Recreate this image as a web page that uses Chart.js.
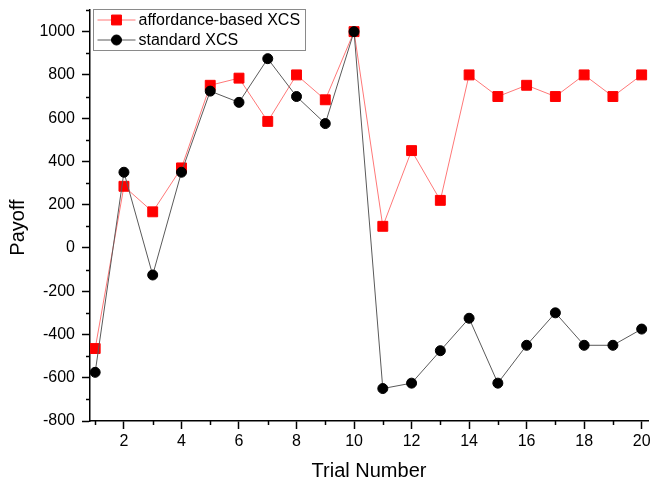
<!DOCTYPE html>
<html>
<head>
<meta charset="utf-8">
<script src="https://cdn.jsdelivr.net/npm/chart.js@4.4.0/dist/chart.umd.min.js"></script>
<style>
  html, body { margin: 0; padding: 0; background: #fff; }
</style>
</head>
<body>
<canvas id="chart-1" width="650" height="484"></canvas>
<script>
const trials = [1, 2, 3, 4, 5, 6, 7, 8, 9, 10, 11, 12, 13, 14, 15, 16, 17, 18, 19, 20];
const affordanceXcs = [-465, 285, 167, 370, 752, 785, 585, 800, 685, 1000, 100, 450, 220, 800, 700, 752, 700, 800, 700, 800];
const standardXcs = [-575, 350, -125, 350, 725, 673, 875, 700, 575, 1000, -650, -625, -475, -325, -625, -450, -300, -450, -450, -375];
const seriesNames = ["affordance-based XCS", "standard XCS"];
const yTitle = "Payoff";

Chart.defaults.font.family = "'Liberation Sans', Arial, sans-serif";
Chart.defaults.color = "#000";

// short minor ticks (odd trials, odd hundreds)
const minorTicks = {
  id: "minorTicks",
  afterDraw(chart) {
    const ctx = chart.ctx;
    ctx.save();
    ctx.strokeStyle = "#000";
    ctx.lineWidth = 1.5;
    const sx = chart.scales.x;
    sx.ticks.forEach((t) => {
      if (t.value % 2 === 0) return;
      const px = Math.round(sx.getPixelForValue(t.value)) + 0.5;
      ctx.beginPath();
      ctx.moveTo(px, sx.top);
      ctx.lineTo(px, sx.top + 4);
      ctx.stroke();
    });
    const sy = chart.scales.y;
    sy.ticks.forEach((t) => {
      if (t.value % 200 === 0) return;
      const py = Math.round(sy.getPixelForValue(t.value)) + 0.5;
      ctx.beginPath();
      ctx.moveTo(sy.right - 4, py);
      ctx.lineTo(sy.right, py);
      ctx.stroke();
    });
    // y title sits a bit below the middle of the axis, as in the original
    ctx.translate(18, (chart.chartArea.top + chart.chartArea.bottom) / 2 + 12);
    ctx.rotate(-Math.PI / 2);
    ctx.fillStyle = "#000";
    ctx.font = "20px 'Liberation Sans', Arial, sans-serif";
    ctx.textAlign = "center";
    ctx.textBaseline = "middle";
    ctx.fillText(yTitle, 0, 0);
    ctx.restore();
  },
};

// legend box inside the plot, top left
const boxLegend = {
  id: "boxLegend",
  afterDraw(chart) {
    const ctx = chart.ctx;
    const area = chart.chartArea;
    const left = area.left + 3.5;
    const top = area.top - 0.5;
    ctx.save();
    ctx.fillStyle = "#fff";
    ctx.strokeStyle = "#8a8a8a";
    ctx.lineWidth = 1;
    ctx.fillRect(left, top, 212, 41);
    ctx.strokeRect(left, top, 212, 41);
    chart.data.datasets.forEach((ds, i) => {
      const y = top + 10.5 + i * 20;
      ctx.strokeStyle = ds.borderColor;
      ctx.lineWidth = 1;
      ctx.beginPath();
      ctx.moveTo(left + 4, y);
      ctx.lineTo(left + 42, y);
      ctx.stroke();
      ctx.fillStyle = ds.pointBackgroundColor;
      ctx.strokeStyle = ds.pointBorderColor;
      Chart.helpers.drawPoint(ctx, { pointStyle: ds.pointStyle, radius: ds.pointRadius, borderWidth: 1, rotation: 0 }, left + 23, y);
      ctx.fillStyle = "#000";
      ctx.font = "16px 'Liberation Sans', Arial, sans-serif";
      ctx.textBaseline = "middle";
      ctx.fillText(ds.label, left + 45, y + 1);
    });
    ctx.restore();
  },
};

const ctx_1 = document.getElementById("chart-1");
new Chart(ctx_1, {
  type: "line",
  data: {
    datasets: [
      {
        label: seriesNames[0],
        data: trials.map((t, i) => ({ x: t, y: affordanceXcs[i] })),
        borderColor: "#ff7878",
        borderWidth: 1,
        pointStyle: "rect",
        pointRadius: 7,
        pointBorderWidth: 1,
        pointBackgroundColor: "#ff0000",
        pointBorderColor: "#ff0000",
        order: 1,
      },
      {
        label: seriesNames[1],
        data: trials.map((t, i) => ({ x: t, y: standardXcs[i] })),
        borderColor: "#5a5a5a",
        borderWidth: 1,
        pointStyle: "circle",
        pointRadius: 5,
        pointBorderWidth: 1,
        pointBackgroundColor: "#000",
        pointBorderColor: "#000",
        order: 0,
      },
    ],
  },
  options: {
    responsive: false,
    animation: false,
    devicePixelRatio: 1,
    layout: { autoPadding: false, padding: { left: 0, right: 2, top: 10, bottom: 0 } },
    plugins: {
      legend: { display: false },
      tooltip: { enabled: false },
    },
    scales: {
      x: {
        type: "linear",
        min: 0.82,
        max: 20.22,
        afterFit: (scale) => {
          scale.height = 63;
          scale.paddingLeft = 0;
          scale.paddingRight = 0;
        },
        border: { color: "#000", width: 1.5 },
        grid: {
          drawOnChartArea: false,
          tickLength: 8,
          tickWidth: 1.5,
          tickColor: (c) => (c.tick && c.tick.value % 2 === 0 ? "#000" : "rgba(0,0,0,0)"),
        },
        ticks: {
          stepSize: 1,
          includeBounds: false,
          autoSkip: false,
          maxRotation: 0,
          padding: 3,
          font: { size: 16 },
          callback: (v) => (v % 2 === 0 ? v : ""),
        },
        title: {
          display: true,
          text: "Trial Number",
          font: { size: 20 },
          padding: { top: 0, bottom: 1 },
        },
      },
      y: {
        min: -800,
        max: 1100,
        afterFit: (scale) => {
          scale.width = 90;
          scale.paddingTop = 0;
          scale.paddingBottom = 0;
        },
        border: { color: "#000", width: 1.5 },
        grid: {
          drawOnChartArea: false,
          tickLength: 8,
          tickWidth: 1.5,
          tickColor: (c) => (c.tick && c.tick.value % 200 === 0 ? "#000" : "rgba(0,0,0,0)"),
        },
        ticks: {
          stepSize: 100,
          includeBounds: false,
          autoSkip: false,
          padding: 7,
          font: { size: 16 },
          callback: (v) => (v % 200 === 0 ? v : ""),
        },
      },
    },
  },
  plugins: [minorTicks, boxLegend],
});
</script>
</body>
</html>
